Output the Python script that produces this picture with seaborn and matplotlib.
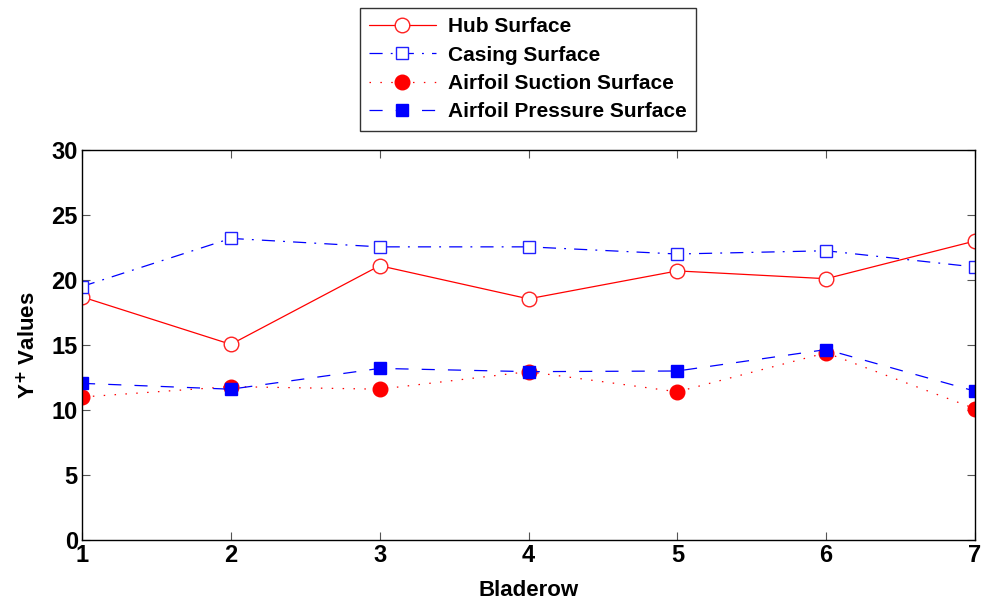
import matplotlib
matplotlib.use("Agg")
import matplotlib.pyplot as plt
import seaborn as sns
import pandas as pd

bladerow = [1, 2, 3, 4, 5, 6, 7]
hub = [18.7, 15.05, 21.1, 18.55, 20.7, 20.1, 23.0]
casing = [19.5, 23.2, 22.55, 22.55, 22.0, 22.25, 21.0]
suction = [11.0, 11.8, 11.6, 12.95, 11.4, 14.4, 10.1]
pressure = [12.05, 11.6, 13.2, 12.95, 13.0, 14.65, 11.45]
labels = ["Hub Surface", "Casing Surface", "Airfoil Suction Surface", "Airfoil Pressure Surface"]

sns.set_style("white")
plt.rcParams['font.family'] = ['Liberation Sans', 'DejaVu Sans']
plt.rcParams['font.weight'] = 'bold'
plt.rcParams['text.color'] = 'black'
plt.rcParams['axes.labelcolor'] = 'black'
plt.rcParams['xtick.color'] = 'black'
plt.rcParams['ytick.color'] = 'black'

fig = plt.figure(figsize=(9.85, 6.05), dpi=100)
ax = fig.add_axes([82/985, 1-540/605, (975-82)/985, (540-150)/605])

series = [hub, casing, suction, pressure]
lw = 0.9
styles = [
    dict(color='#ff0000', linestyle='-', marker='o', markersize=10.5, markerfacecolor='white', markeredgecolor='#ff2020'),
    dict(color='#0000ff', dashes=(10.5, 6.5, 1.5, 6.5), marker='s', markersize=9, markerfacecolor='white', markeredgecolor='#2020ff'),
    dict(color='#ff0000', dashes=(1.2, 7.5), marker='o', markersize=10.5, markerfacecolor='#ff0000', markeredgecolor='#ff0000'),
    dict(color='#0000ff', dashes=(10.5, 10.5), marker='s', markersize=9, markerfacecolor='#0000ff', markeredgecolor='#0000ff'),
]
for vals, lab, st in zip(series, labels, styles):
    df = pd.DataFrame({"x": bladerow, "y": vals})
    line_kw = {k: v for k, v in st.items() if k != 'dashes'}
    sns.lineplot(data=df, x="x", y="y", ax=ax, label=lab, linewidth=lw, markeredgewidth=1.0, **line_kw)
    if 'dashes' in st:
        ax.lines[-1].set_dashes(st['dashes'])

ax.set_xlim(1, 7)
ax.set_ylim(0, 30)
ax.set_xticks(bladerow)
ax.set_yticks([0, 5, 10, 15, 20, 25, 30])
ax.tick_params(axis='both', direction='in', length=6, width=0.8, color='#555555', labelcolor='black',
               labelsize=17, top=True, right=True, bottom=True, left=True, pad=3)
for lbl in ax.get_xticklabels() + ax.get_yticklabels():
    lbl.set_fontweight('bold')
for sp in ax.spines.values():
    sp.set_color('black')
    sp.set_linewidth(1.0)
ax.set_xlabel("Bladerow", fontsize=16, fontweight='bold', labelpad=9, color='black')
ax.set_ylabel("Y$^{\\mathbf{+}}$ Values", fontsize=16, fontweight='bold', labelpad=8, color='black')

ax.get_legend().remove()
h, l = ax.get_legend_handles_labels()
leg = fig.legend(h, l, loc='upper center', bbox_to_anchor=(0.536, 0.987), frameon=True,
                 fancybox=False, edgecolor='black', prop={'weight': 'bold', 'size': 15},
                 handlelength=3.2, borderpad=0.45, labelspacing=0.45, handletextpad=0.6,
                 borderaxespad=0.0, labelcolor='black')
leg.get_frame().set_linewidth(1.0)

fig.savefig("out.png", dpi=100, facecolor='white')
